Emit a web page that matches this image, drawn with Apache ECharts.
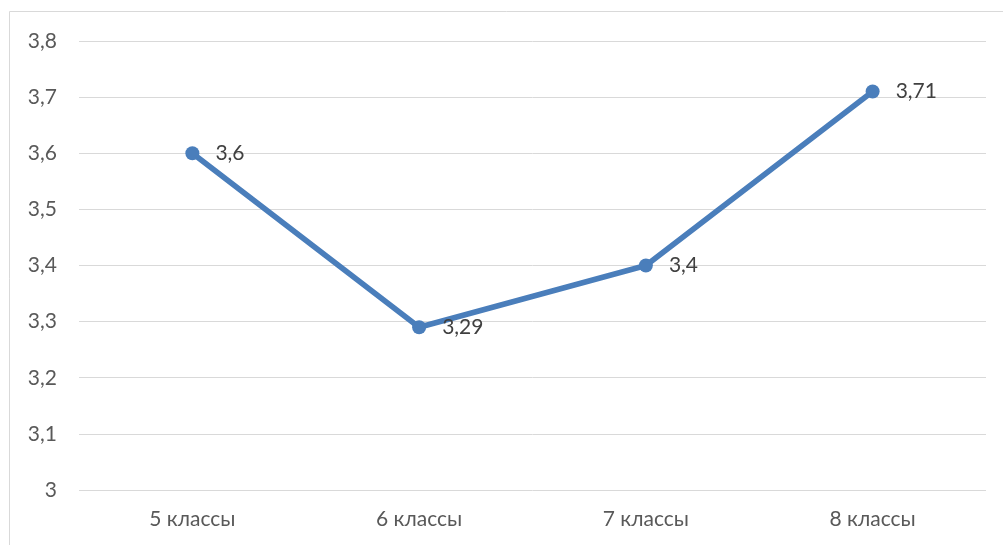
<!DOCTYPE html>
<html><head><meta charset="utf-8">
<script src="https://cdn.jsdelivr.net/npm/echarts@6/dist/echarts.min.js"></script>
<style>html,body{margin:0;padding:0;background:#fff}#c{width:1003px;height:545px}</style>
</head><body><div id="c"></div>
<script>
const categories = ['5 классы', '6 классы', '7 классы', '8 классы'];
const values = [3.6, 3.29, 3.4, 3.71];
const yMin = 3, yMax = 3.8, yStep = 0.1;
const fmt = v => String(Math.round(v * 100) / 100).replace('.', ',');
const chart = echarts.init(document.getElementById('c'));
chart.setOption({
  animation: false,
  textStyle: { fontFamily: 'Lato, "Open Sans", sans-serif' },
  graphic: [{ type: 'rect', shape: { x: 9.5, y: 11.5, width: 1100, height: 600 }, style: { fill: 'none', stroke: '#d9d9d9', lineWidth: 1 } }],
  grid: { left: 79, right: 17, top: 41, bottom: 55 },
  xAxis: {
    type: 'category', data: categories, boundaryGap: true,
    axisLine: { show: false }, axisTick: { show: false },
    axisLabel: { color: '#595959', fontSize: 21, margin: 19, fontFamily: 'Lato, sans-serif' }
  },
  yAxis: {
    type: 'value', min: yMin, max: yMax, interval: yStep,
    axisLine: { show: false }, axisTick: { show: false },
    splitLine: { lineStyle: { color: '#d9d9d9', width: 1 } },
    axisLabel: { color: '#595959', fontSize: 21, margin: 22, formatter: fmt, fontFamily: 'Lato, sans-serif' }
  },
  series: [{
    type: 'line', data: values,
    lineStyle: { color: '#4a7ebb', width: 5.5, cap: 'round', join: 'round' },
    itemStyle: { color: '#4a7ebb' },
    symbol: 'circle', symbolSize: 14,
    label: { show: true, position: 'right', distance: 16, color: '#404040', fontSize: 21, formatter: p => fmt(p.value), fontFamily: 'Lato, sans-serif' }
  }]
});
</script></body></html>
